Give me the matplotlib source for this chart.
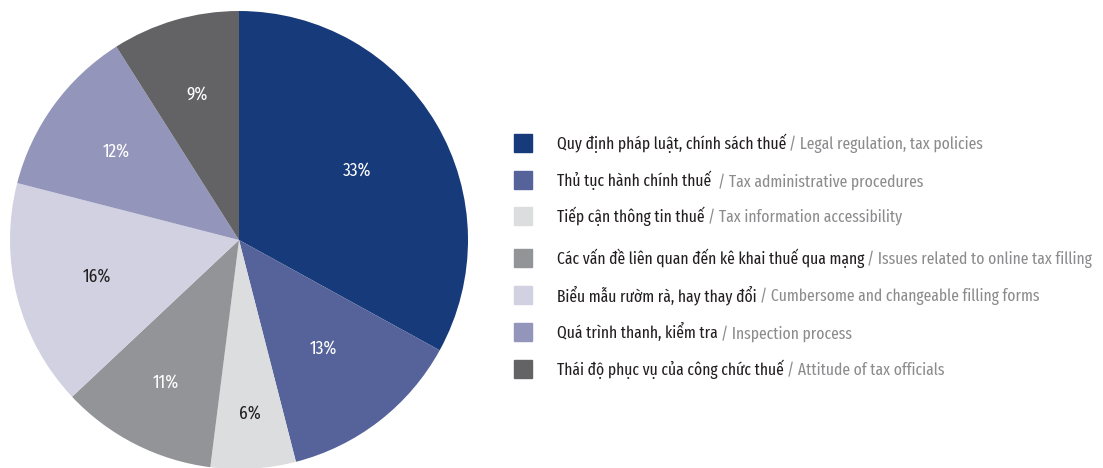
import matplotlib.pyplot as plt
from matplotlib import font_manager
from matplotlib.font_manager import FontProperties


def narrowness(f):
    n = f.name.replace(' ', '')
    if 'ExtraCondensed' in n or f.stretch == 'extra-condensed':
        return 0
    if 'Narrow' in n:
        return 1
    if 'Condensed' in n and 'Semi' not in n:
        return 2
    return 3


# look for the narrowest regular face available
narrow = [f for f in font_manager.fontManager.ttflist
          if ('Narrow' in f.name or 'Condensed' in f.name or 'condensed' in str(f.stretch))
          and f.style == 'normal' and f.weight in (400, 'normal', 'regular')]
narrow.sort(key=lambda f: (narrowness(f), 0 if 'Noto Sans' in f.name else 1, f.fname))
if narrow:
    font = FontProperties(fname=narrow[0].fname)
    wide = narrowness(narrow[0]) >= 2
    size = 10.5 if wide else 12.2
else:
    font = FontProperties(family=['Liberation Sans', 'DejaVu Sans'])
    size = 10

shares = [33, 13, 6, 11, 16, 12, 9]
labels_vi = ["Quy định pháp luật, chính sách thuế",
             "Thủ tục hành chính thuế ",
             "Tiếp cận thông tin thuế",
             "Các vấn đề liên quan đến kê khai thuế qua mạng",
             "Biểu mẫu rườm rà, hay thay đổi",
             "Quá trình thanh, kiểm tra",
             "Thái độ phục vụ của công chức thuế"]
labels_en = ["Legal regulation, tax policies",
             "Tax administrative procedures",
             "Tax information accessibility",
             "Issues related to online tax filling",
             "Cumbersome and changeable filling forms",
             "Inspection process",
             "Attitude of tax officials"]
colors = ["#173a7a", "#55639a", "#dcdddf", "#939497", "#d1d1e2", "#9396ba", "#636365"]
pct_colors = ["white", "white", "#231f20", "white", "#231f20", "white", "white"]
# small slices get their labels pushed further out
pct_dist = [0.6, 0.6, 0.76, 0.7, 0.64, 0.66, 0.66]

W, H = 1103, 468
fig = plt.figure(figsize=(W / 100, H / 100), dpi=100)

# pie centred at (239, 240) px, radius 229 px
cx, cy, r = 239, 240, 229
ax = fig.add_axes([(cx - r) / W, (H - cy - r) / H, 2 * r / W, 2 * r / H])
wedges, texts, autotexts = ax.pie(shares, colors=colors, startangle=90, counterclock=False,
                                  autopct='%d%%', pctdistance=0.6, radius=1,
                                  wedgeprops=dict(linewidth=0))
for t, c, d in zip(autotexts, pct_colors, pct_dist):
    x, y = t.get_position()
    t.set_position((x * d / 0.6, y * d / 0.6))
    t.set_color(c)
    t.set_fontproperties(font)
    t.set_fontsize(13.5)
ax.set_xlim(-1, 1)
ax.set_ylim(-1, 1)
ax.set_aspect('equal')
ax.axis('off')

# legend rows
rows_y = [143, 180, 216, 258, 295, 332, 369]
for y, c, vi, en in zip(rows_y, colors, labels_vi, labels_en):
    fig.patches.append(plt.Rectangle((514 / W, (H - y - 9) / H), 18 / W, 18 / H,
                                     transform=fig.transFigure, color=c))
    t1 = fig.text(557 / W, (H - y) / H, vi, fontproperties=font, fontsize=size,
                  color="#231f20", va='center', ha='left')
    ax.annotate("/ " + en, xy=(1, 0), xycoords=t1, xytext=(3, 0),
                textcoords='offset pixels', va='bottom', ha='left',
                fontproperties=font, fontsize=size, color="#8c8c8e",
                annotation_clip=False)

fig.savefig("out.png", dpi=100)
